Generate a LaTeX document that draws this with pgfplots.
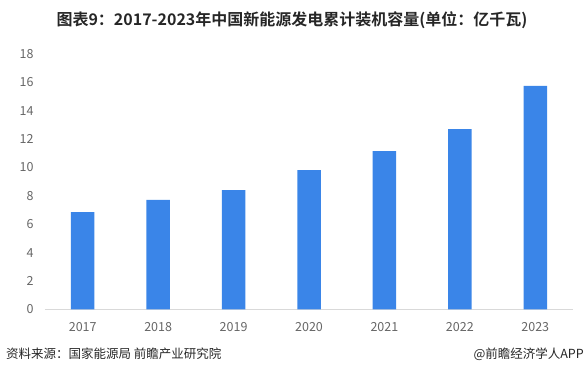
\documentclass[border=0pt]{standalone}
\usepackage{pgfplots}
\pgfplotsset{compat=1.18}
\usepackage{fontspec}
\setmainfont{Noto Sans CJK SC}
\newfontfamily\cjkbold{Noto Sans CJK SC}[BoldFont={Noto Sans CJK SC Bold}]
\definecolor{barblue}{HTML}{3A85E8}
\definecolor{ticktext}{HTML}{666666}
\definecolor{axisgrey}{HTML}{D9D9D9}
\begin{document}
\begin{tikzpicture}
\useasboundingbox (0,0) rectangle (584bp,375bp);
\begin{axis}[
  at={(45bp,65.7bp)}, anchor=south west,
  scale only axis, width=528bp, height=255.3bp,
  xmin=-0.5, xmax=6.5, ymin=0, ymax=18,
  ytick={0,2,...,18},
  xtick={0,...,6},
  xticklabels={2017,2018,2019,2020,2021,2022,2023},
  axis x line*=bottom, axis y line*=left,
  x axis line style={axisgrey, line width=1pt, -},
  y axis line style={draw=none},
  tick style={draw=none},
  ticklabel style={font=\fontsize{12.5bp}{14bp}\selectfont, text=ticktext},
  yticklabel style={xshift=-8bp},
  xticklabel style={yshift=-5bp},
  /pgf/number format/assume math mode=true,
  ybar, bar width=23.5bp,
  clip=false,
]
\addplot[fill=barblue, draw=none] coordinates {(0,6.86) (1,7.71) (2,8.41) (3,9.82) (4,11.16) (5,12.71) (6,15.75)};
\end{axis}
\node[font=\cjkbold\bfseries\fontsize{16bp}{18bp}\selectfont, text=black!85] at (292bp,355bp) {图表9：2017-2023年中国新能源发电累计装机容量(单位：亿千瓦)};
\node[anchor=west, font=\fontsize{12.5bp}{14bp}\selectfont, text=black!85, inner sep=0pt] at (6bp,21bp) {资料来源：国家能源局 前瞻产业研究院};
\node[anchor=east, font=\fontsize{12.5bp}{14bp}\selectfont, text=black!85, inner sep=0pt] at (584bp,21bp) {@前瞻经济学人APP};
\end{tikzpicture}
\end{document}
